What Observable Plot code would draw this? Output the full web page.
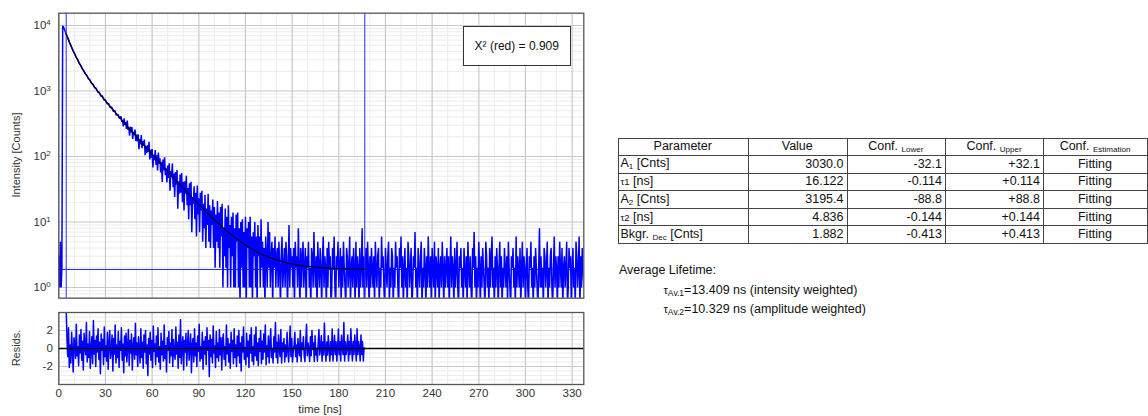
<!DOCTYPE html>
<html><head><meta charset="utf-8">
<script src="https://cdn.jsdelivr.net/npm/d3@7"></script>
<script src="https://cdn.jsdelivr.net/npm/@observablehq/plot@0.6"></script>
<style>
body{margin:0;background:#fff;}
#root{position:relative;width:1148px;height:416px;overflow:hidden;font-family:"Liberation Sans",Arial,sans-serif;color:#111;}
.lab{position:absolute;font-size:11px;color:#333;white-space:nowrap;transform:translate(-50%,-50%);}
.rot{transform:translate(-50%,-50%) rotate(-90deg);}
#chi{position:absolute;left:462.5px;top:26px;width:108.5px;height:39.5px;box-sizing:border-box;border:1px solid #333;background:#fff;display:flex;align-items:center;justify-content:center;font-size:12px;color:#111;}
table{position:absolute;left:617.5px;top:137.5px;border-collapse:collapse;table-layout:fixed;font-size:12.5px;color:#111;}
td{border:1px solid #444;height:17.6px;padding:0 3px 0 2px;box-sizing:border-box;white-space:nowrap;line-height:15px;overflow:hidden;}
td.c{text-align:center;} td.r{text-align:right;} td.l{text-align:left;}
.sub{font-size:8px;position:relative;top:2px;}
.sm{font-size:9.5px;}
.txt{position:absolute;font-size:12.5px;line-height:14px;white-space:nowrap;color:#111;}
</style>
</head><body>
<div id="root">
  <div id="main" style="position:absolute;left:0;top:0"></div>
  <div id="resid" style="position:absolute;left:0;top:300px"></div>
  <div class="lab rot" style="left:16px;top:155px">Intensity [Counts]</div>
  <div class="lab rot" style="left:16px;top:348px">Resids.</div>
  <div class="lab" style="left:320px;top:409px;font-size:11.5px">time [ns]</div>
  <div id="chi"></div>
  <div id="tbl"></div>
  <div id="life"></div>
</div>
<script>
// ---------- data ----------
const xMajor = [0,30,60,90,120,150,180,210,240,270,300,330];
const yMajor = [1,10,100,1000,10000];
const residTicks = [-2,0,2];

// decay histogram (counts), segments: start time [ns], step [ns], counts
const riseStart = 0, riseStep = 0.5;
const countsRise = [3,1,5,1,2,9900,9500,8850,8250,7700];
const earlyStart = 5, earlyStep = 1;
const countsEarly = [7120,6260,5400,4840,4190,3800,3330,3050,2690,2490,2190,2060,1830,1740,1540,1480,1310,1275,1120,1100,968,955,840,836,733,730,640,645,560,568,490,502,428,441,380];
const decayStart = 40, decayStep = 0.5;
const countsDecay = [
410,337,358,289,384,306,335,264,355,255,
278,208,285,233,281,186,239,214,259,172,
216,170,218,129,179,153,212,134,172,146,
181,105,146,112,148,118,168,90,126,96,
130,68,105,88,125,74,104,61,115,77,
94,57,83,41,90,61,97,52,66,40,
73,47,79,30,60,48,78,34,55,24,
58,37,62,16,42,27,53,28,56,20,
41,15,42,27,51,18,33,11,39,18,
41,7,24,19,35,11,28,6,36,13,
23,7,28,15,30,5,19,8,26,4,
16,9,27,5,18,4,15,9,22,4,
17,2,13,5,21,4,14,2,17,6,
19,1,8,3,16,2,12,1,18,4,
9,1,12,3,14,1,8,1,13,5,
14,1,8,0,10,2,11,1,7,1,
12,0,8,4,10,1,12,1,6,0,
7,3,10,1,6,0,9,3,6,1,
11];
const tailStart = 130.5, tailStep = 0.5;
const countsTail = [
2,5,1,4,0,6,3,1,10,2,7,1,3,5,0,4,2,6,1,3,
4,1,5,2,0,3,6,1,2,4,1,5,3,0,2,9,1,4,2,3,
1,4,0,5,2,3,1,8,2,0,4,1,3,5,1,2,4,0,3,2,
5,1,2,0,4,3,1,7,2,1,3,0,5,2,1,4,2,0,3,6,
1,3,2,0,4,1,5,2,3,0,1,4,2,6,1,0,3,2,5,1,
2,4,0,3,1,5,2,1,0,4,3,1,2,6,0,2,3,1,4,2,
0,5,1,3,2,0,4,1,2,8,1,3,0,2,4,1,5,2,0,3,
1,4,2,1,3,0,5,2,1,3,4,0,2,1,6,2,3,1,0,4,
2,1,3,5,0,2,1,4,3,0,2,1,5,2,3,1,0,4,2,6,
1,3,0,2,4,1,2,0,5,3,1,2,4,0,1,3,2,7,1,2,
0,4,2,1,3,5,0,2,1,4,2,0,3,1,6,2,1,3,0,4,
2,1,5,0,3,2,1,4,0,2,3,1,5,2,0,3,1,2,4,1,
3,0,2,6,1,3,2,0,4,1,2,5,1,0,3,2,4,1,2,0,
4,2,1,3,0,5,2,1,3,1,0,4,2,7,1,3,0,2,1,5,
2,0,3,1,4,2,1,0,5,3,1,2,0,4,1,3,6,1,2,0,
3,1,4,2,0,2,5,1,3,0,2,1,4,2,1,3,0,5,2,1,
0,3,2,4,1,2,0,6,1,3,2,1,4,0,2,5,1,3,2,0,
2,4,1,0,3,2,5,1,2,0,3,1,4,2,1,0,2,8,1,3,
1,2,0,4,3,1,2,5,0,2,1,3,4,1,0,2,6,1,3,2,
0,3,1,5,2,1,4,0,2,3,1,2,5,0,1,4,2,3,0,2,
4,1,2,0,5,3,1,2,6,0,3,1,4,2,1];

// fitted decay curve
const fitTime = [4.75,5,6,7,8,9,10,11,12,13,14,15,16,17,18,19,20,22,24,26,28,30,32,34,36,38,40,45,50,55,60,65,70,75,80,85,90,95,100,105,110,115,120,125,130,135,140,150,160,170,180,190,196.7];
const fitCounts = [7412,7155,6227,5449,4793,4235,3764,3360,3015,2716,2458,2233,2035,1862,1709,1573,1450,1243,1072,930,810,708,621,545,480,422,372.5,272.7,200.1,147.1,108.3,79.9,59.1,43.8,32.7,24.5,18.4,14.0,10.8,8.41,6.67,5.39,4.46,3.77,3.27,2.90,2.63,2.28,2.10,2.00,1.94,1.92,1.90];
const fitRange = [4.75, 196.7];
const background = 1.882;

// weighted residuals
const residStart = 4.75, residStep = 0.5;
const residuals = [
4.4,1.1,-0.9,2.3,-2.1,0.4,-1.6,1.8,-0.3,-2.6,1.2,0.6,-1.1,2.7,-0.8,0.2,-1.9,1.5,-0.5,2.1,
-1.3,0.8,-2.4,1.7,0.3,-0.7,2.9,-1.5,0.5,-1.0,1.9,-2.2,0.1,1.3,-1.7,3.1,-0.6,0.9,-2.0,1.4,
-0.4,2.2,-1.2,0.7,-2.8,1.6,-0.2,1.0,-1.8,2.4,-0.9,0.3,-1.4,1.8,-2.3,0.6,2.0,-1.1,-0.3,1.5,
-2.5,1.1,-0.6,2.6,-1.6,0.4,-1.0,1.9,-2.1,0.8,-0.2,2.3,-1.3,0.5,-2.7,1.4,-0.8,1.7,-1.5,0.2,
2.1,-1.9,0.9,-0.5,1.6,-2.4,0.3,1.2,-1.2,2.8,-0.7,0.6,-2.0,1.3,-0.1,-1.6,2.2,-1.0,0.7,-2.2,
1.5,-0.4,2.0,-1.7,0.4,-3.0,1.1,-0.6,1.8,-1.3,0.9,-2.1,2.5,-0.3,0.5,-1.8,1.4,-0.9,2.3,-1.5,
0.2,-2.3,1.7,-0.7,0.8,-1.4,2.6,-1.1,0.3,-2.6,1.2,-0.2,1.9,-1.6,0.6,-0.8,2.1,-2.0,1.0,-0.5,
-1.2,2.4,-0.6,0.7,-2.2,1.5,-1.0,3.2,-1.7,0.1,1.3,-2.4,0.9,-0.4,1.7,-1.9,0.5,2.0,-1.3,-0.1,
1.6,-2.7,0.4,1.1,-1.5,2.2,-0.8,0.6,-2.0,1.4,-0.3,2.7,-1.4,0.2,-1.1,1.8,-2.3,0.8,-0.6,1.3,
-1.8,2.3,-0.2,0.9,-3.1,1.5,-0.9,1.0,-1.6,2.5,-0.5,0.3,-2.1,1.9,-1.0,0.6,-1.4,2.1,-0.7,1.2,
-2.4,0.8,1.6,-1.2,0.2,-1.9,2.6,-0.6,1.1,-1.5,0.5,-2.2,1.8,-0.3,0.9,-1.7,2.2,-1.0,0.4,-2.0,
1.4,-0.8,2.0,-1.6,0.6,-2.5,1.3,-0.4,2.4,-1.2,0.1,-1.8,1.7,-0.9,0.8,-2.1,1.5,-0.5,2.3,-1.4,
0.2,-1.8,1.5,-0.8,2.4,-1.3,0.6,-1.9,1.1,-0.3,2.0,-1.7,0.8,-1.2,1.6,-0.4,2.6,-1.8,0.3,-0.9,
1.4,-1.6,0.6,2.2,-1.0,0.0,-1.6,1.3,-0.4,2.9,-1.0,0.7,-1.6,1.5,0.0,-0.9,2.1,-1.6,0.6,-0.3,
1.1,-1.5,0.4,-0.9,1.8,-0.3,-1.5,0.4,2.5,-0.9,1.1,-1.5,-0.3,0.4,1.8,-0.9,0.4,-1.5,1.1,-0.3,
-0.8,2.0,-1.45,0.6,-0.1,1.3,-0.8,-1.45,0.6,2.7,-0.8,0.6,-0.1,-1.45,1.3,-0.8,2.0,-0.1,0.6,-1.45,
1.41,-0.71,0,-1.41,0.71,2.12,-0.71,0,1.41,-1.41,0.71,-0.71,2.83,0,-1.41,0.71,-0.71,1.41,0,-1.41,
0.75,-0.68,2.18,-1.4,0.04,1.47,-0.68,0.75,-1.4,0.04,2.18,-0.68,0.75,-1.4,1.47,0.04,-0.68,2.9,-1.4,0.75,
-0.66,0.06,1.5,-1.39,0.78,-0.66,2.2,0.06,-1.39,0.78,-0.66,1.5,0.06,-1.39,2.2,-0.66,0.78,0.06,-1.39,1.5,
-0.66,0.78,-1.39,0.06];

// fit table
const tableHeader = ["Parameter","Value","Conf. <span class='sub'>Lower</span>","Conf. <span class='sub'>Upper</span>","Conf. <span class='sub'>Estimation</span>"];
const paramNames = ["A<span class='sub'>1</span> [Cnts]","<span class='sm'>τ1</span> [ns]","A<span class='sub'>2</span> [Cnts]","<span class='sm'>τ2</span> [ns]","Bkgr. <span class='sub'>Dec</span> [Cnts]"];
const paramValues = ["3030.0","16.122","3195.4","4.836","1.882"];
const confLower = ["-32.1","-0.114","-88.8","-0.144","-0.413"];
const confUpper = ["+32.1","+0.114","+88.8","+0.144","+0.413"];
const confEstimation = ["Fitting","Fitting","Fitting","Fitting","Fitting"];
const chiText = "X² (red) = 0.909";
const lifetimeTitle = "Average Lifetime:";
const lifetimeSubs = ["Av.1","Av.2"];
const lifetimeTexts = ["=13.409 ns (intensity weighted)","=10.329 ns (amplitude weighted)"];

// ---------- build ----------
const seg = (t0, dt, arr) => arr.map((c, i) => ({t: t0 + i * dt, c}));
const decayRows = [
  ...seg(riseStart, riseStep, countsRise),
  ...seg(earlyStart, earlyStep, countsEarly),
  ...seg(decayStart, decayStep, countsDecay),
  ...seg(tailStart, tailStep, countsTail)
];
const fitRows = fitTime.map((t, i) => ({t, c: fitCounts[i]}));
const residRows = residuals.map((r, i) => ({t: residStart + i * residStep, r}));

const xDomain = [0, 337.5];
const xMinor = d3.range(0, 338, 10).filter(d => d % 30 !== 0);
const yMinor = [];
for (const k of [-1,0,1,2,3,4]) for (let m = 2; m <= 9; m++) {
  const v = m * Math.pow(10, k);
  if (v > 0.686 && v < 15420) yMinor.push(v);
}
const rMinor = d3.range(-4, 4.01, 0.5).filter(d => d % 2 !== 0);
const rMajor = [-4, -2, 2, 4];

const style = {fontFamily: "Liberation Sans, Arial, sans-serif", fontSize: "11.5px", color: "#333", background: "white", overflow: "visible"};
const gridMinor = "#ececec", gridMajor = "#c8c8c8";
const dataBlue = "#0000ff", markerBlue = "#2b2bff";

const main = Plot.plot({
  width: 600, height: 300,
  marginLeft: 58.3, marginRight: 16.7, marginTop: 12.7, marginBottom: 2.3,
  x: {domain: xDomain, axis: null},
  y: {type: "log", domain: [0.686, 15420]},
  style,
  marks: [
    Plot.ruleX(xMinor, {stroke: gridMinor}),
    Plot.ruleY(yMinor, {stroke: gridMinor}),
    Plot.ruleX(xMajor, {stroke: gridMajor, strokeWidth: 1.2}),
    Plot.ruleY(yMajor, {stroke: gridMajor, strokeWidth: 1.2}),
    Plot.axisY(yMajor, {tickSize: 0, tickPadding: 8, label: null, tickFormat: d => String(Math.round(Math.log10(d)))}),
    Plot.ruleY([background], {stroke: markerBlue, strokeWidth: 1}),
    Plot.line(decayRows, {x: "t", y: d => Math.max(d.c, 0.5), stroke: dataBlue, strokeWidth: 1.5, strokeLinejoin: "miter", clip: true}),
    Plot.ruleX(fitRange, {stroke: markerBlue, strokeWidth: 1}),
    Plot.line(fitRows, {x: "t", y: "c", stroke: "#000033", strokeWidth: 1.3, curve: "monotone-x"}),
    Plot.frame({stroke: "#555", strokeWidth: 1.3})
  ]
});
d3.select(main).selectAll('g[aria-label="y-axis tick label"] text').each(function () {
  const e = this.textContent;
  const s = d3.select(this);
  s.text("10");
  s.append("tspan").attr("dy", "-0.5em").attr("font-size", "8px").text(e);
});
document.getElementById("main").appendChild(main);

const resid = Plot.plot({
  width: 600, height: 116,
  marginLeft: 58.3, marginRight: 16.7, marginTop: 12, marginBottom: 32,
  x: {domain: xDomain},
  y: {domain: [-4, 4]},
  style,
  marks: [
    Plot.ruleX(xMinor, {stroke: gridMinor}),
    Plot.ruleY(rMinor, {stroke: gridMinor}),
    Plot.ruleX(xMajor, {stroke: gridMajor, strokeWidth: 1.2}),
    Plot.ruleY(rMajor, {stroke: gridMajor, strokeWidth: 1.2}),
    Plot.axisX(xMajor, {tickSize: 0, tickPadding: 4, label: null, tickFormat: d => String(d)}),
    Plot.axisY(residTicks, {tickSize: 0, tickPadding: 6, label: null, tickFormat: d => String(d)}),
    Plot.line(residRows, {x: "t", y: "r", stroke: dataBlue, strokeWidth: 1.5, clip: true}),
    Plot.ruleY([0], {stroke: "#000", strokeWidth: 1.5}),
    Plot.frame({stroke: "#555", strokeWidth: 1.3})
  ]
});
document.getElementById("resid").appendChild(resid);

document.getElementById("chi").textContent = chiText;

// table
const colW = [130.5, 98.5, 98.5, 98, 104];
let html = "<table><colgroup>" + colW.map(w => `<col style="width:${w}px">`).join("") + "</colgroup>";
html += "<tr>" + tableHeader.map(h => `<td class="c">${h}</td>`).join("") + "</tr>";
paramNames.forEach((n, i) => {
  html += `<tr><td class="l">${n}</td><td class="r">${paramValues[i]}</td><td class="r">${confLower[i]}</td><td class="r">${confUpper[i]}</td><td class="c">${confEstimation[i]}</td></tr>`;
});
html += "</table>";
document.getElementById("tbl").innerHTML = html;

// lifetimes
let lh = `<div class="txt" style="left:619px;top:263px">${lifetimeTitle}</div>`;
lifetimeTexts.forEach((t, i) => {
  lh += `<div class="txt" style="left:663.5px;top:${282.5 + i * 19.5}px"><span style="font-size:11px">τ</span><span class="sub" style="font-size:8.5px">${lifetimeSubs[i]}</span>${t}</div>`;
});
document.getElementById("life").innerHTML = lh;
</script>
</body></html>
